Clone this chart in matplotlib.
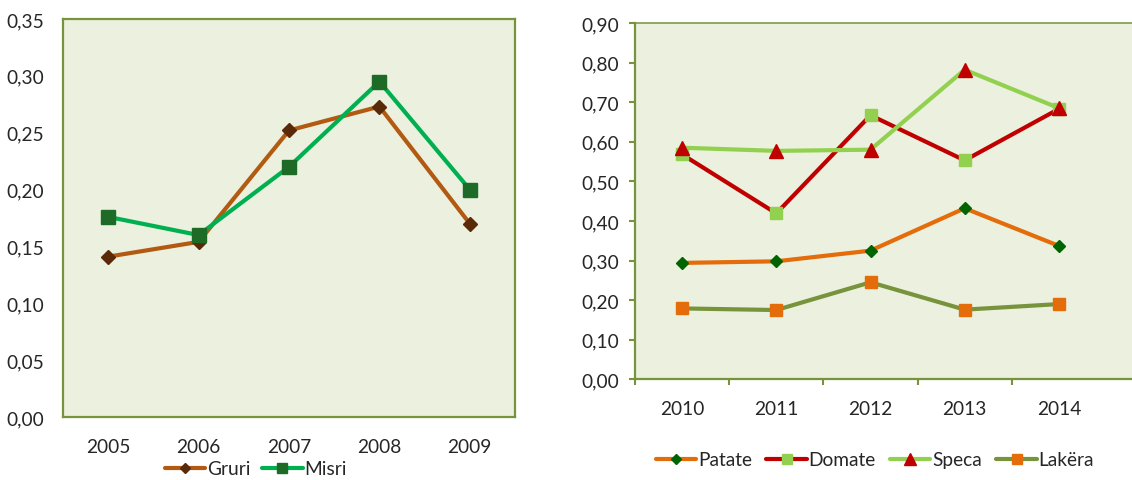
import matplotlib
matplotlib.use("Agg")
import matplotlib.pyplot as plt
from matplotlib.ticker import FuncFormatter, FixedLocator

plt.rcParams['font.family'] = ['Lato', 'DejaVu Sans']

# Cereals, 2005-2009
years_a = ["2005", "2006", "2007", "2008", "2009"]
gruri = [0.141, 0.154, 0.252, 0.273, 0.170]
misri = [0.176, 0.160, 0.220, 0.295, 0.200]

# Vegetables, 2010-2014
years_b = ["2010", "2011", "2012", "2013", "2014"]
patate = [0.294, 0.298, 0.325, 0.432, 0.337]
domate = [0.568, 0.419, 0.667, 0.553, 0.683]
speca = [0.585, 0.577, 0.580, 0.782, 0.685]
lakera = [0.179, 0.175, 0.245, 0.176, 0.190]

FRAME = "#77933C"
PANEL = "#EBF1DE"
TXT = "#262626"
FS = 13.8

W, H = 1132, 481
fig = plt.figure(figsize=(W / 100, H / 100), dpi=100)
fig.patch.set_facecolor("white")

def comma(v, _pos):
    return f"{v:.2f}".replace(".", ",")

# ---------- left panel ----------
axl = fig.add_axes([63 / W, (H - 418) / H, 452 / W, 398 / H])
axl.set_facecolor(PANEL)
xa = range(len(years_a))
axl.plot(xa, gruri, color="#B35A12", lw=3.0, marker="D", ms=7,
         mfc="#5A2A08", mec="#5A2A08", solid_joinstyle="round",
         solid_capstyle="round", label="Gruri", zorder=3)
axl.plot(xa, misri, color="#00B050", lw=3.0, marker="s", ms=10,
         mfc="#1E6B28", mec="#1E6B28", solid_joinstyle="round",
         solid_capstyle="round", label="Misri", zorder=4)
axl.set_xlim(-0.5, 4.5)
axl.set_ylim(0, 0.35)
axl.set_yticks([0, 0.05, 0.10, 0.15, 0.20, 0.25, 0.30, 0.35])
axl.yaxis.set_major_formatter(FuncFormatter(comma))
axl.set_xticks(list(xa))
axl.set_xticklabels(years_a)
axl.tick_params(axis="both", length=0, labelsize=FS, colors=TXT)
axl.tick_params(axis="y", pad=13.5)
axl.tick_params(axis="x", pad=15)
for s in axl.spines.values():
    s.set_color(FRAME)
    s.set_linewidth(1.6)
axl.legend(loc="center", bbox_to_anchor=(256 / W, 1 - 470 / H),
           bbox_transform=fig.transFigure, ncol=2, frameon=False,
           fontsize=FS, handlelength=2.1, handletextpad=0.1,
           columnspacing=0.6, labelcolor=TXT, borderaxespad=0,
           borderpad=0, markerscale=0.7)

# ---------- right panel ----------
axr = fig.add_axes([635 / W, (H - 380.3) / H, 497 / W, 356.3 / H])
axr.set_facecolor(PANEL)
xb = range(len(years_b))
axr.plot(xb, patate, color="#E46C0A", lw=3.0, marker="D", ms=6,
         mfc="#006400", mec="#006400", solid_joinstyle="round",
         solid_capstyle="round", label="Patate", zorder=3)
axr.plot(xb, domate, color="#C00000", lw=3.0, marker="s", ms=9,
         mfc="#92D050", mec="#92D050", solid_joinstyle="round",
         solid_capstyle="round", label="Domate", zorder=4)
axr.plot(xb, speca, color="#92D050", lw=3.0, marker="^", ms=10,
         mfc="#C00000", mec="#C00000", solid_joinstyle="round",
         solid_capstyle="round", label="Speca", zorder=5)
axr.plot(xb, lakera, color="#77933C", lw=3.0, marker="s", ms=9,
         mfc="#E46C0A", mec="#E46C0A", solid_joinstyle="round",
         solid_capstyle="round", label="Lakëra", zorder=6)
axr.set_xlim(-0.5, -0.5 + 497 * 5 / 471)
axr.set_ylim(0, 0.9)
axr.set_yticks([round(0.1 * i, 1) for i in range(10)])
axr.yaxis.set_major_formatter(FuncFormatter(comma))
axr.set_xticks(list(xb))
axr.set_xticklabels(years_b)
axr.xaxis.set_minor_locator(FixedLocator([-0.5, 0.5, 1.5, 2.5, 3.5]))
axr.tick_params(axis="x", which="major", length=0, labelsize=FS,
                colors=TXT, pad=15)
axr.tick_params(axis="x", which="minor", length=4, width=1.5,
                color=FRAME)
axr.tick_params(axis="y", length=4, width=1.5, color=FRAME,
                labelcolor=TXT, labelsize=FS, pad=7.5)
axr.spines["right"].set_visible(False)
for side in ("left", "bottom"):
    axr.spines[side].set_color(FRAME)
    axr.spines[side].set_linewidth(1.6)
axr.spines["top"].set_color(FRAME)
axr.spines["top"].set_linewidth(1.1)
axr.legend(loc="center", bbox_to_anchor=(875 / W, 1 - 461 / H),
           bbox_transform=fig.transFigure, ncol=4, frameon=False,
           fontsize=FS, handlelength=2.1, handletextpad=0.1,
           columnspacing=0.75, labelcolor=TXT, borderaxespad=0,
           borderpad=0, markerscale=0.8)

fig.savefig("out.png", dpi=100, facecolor="white")
